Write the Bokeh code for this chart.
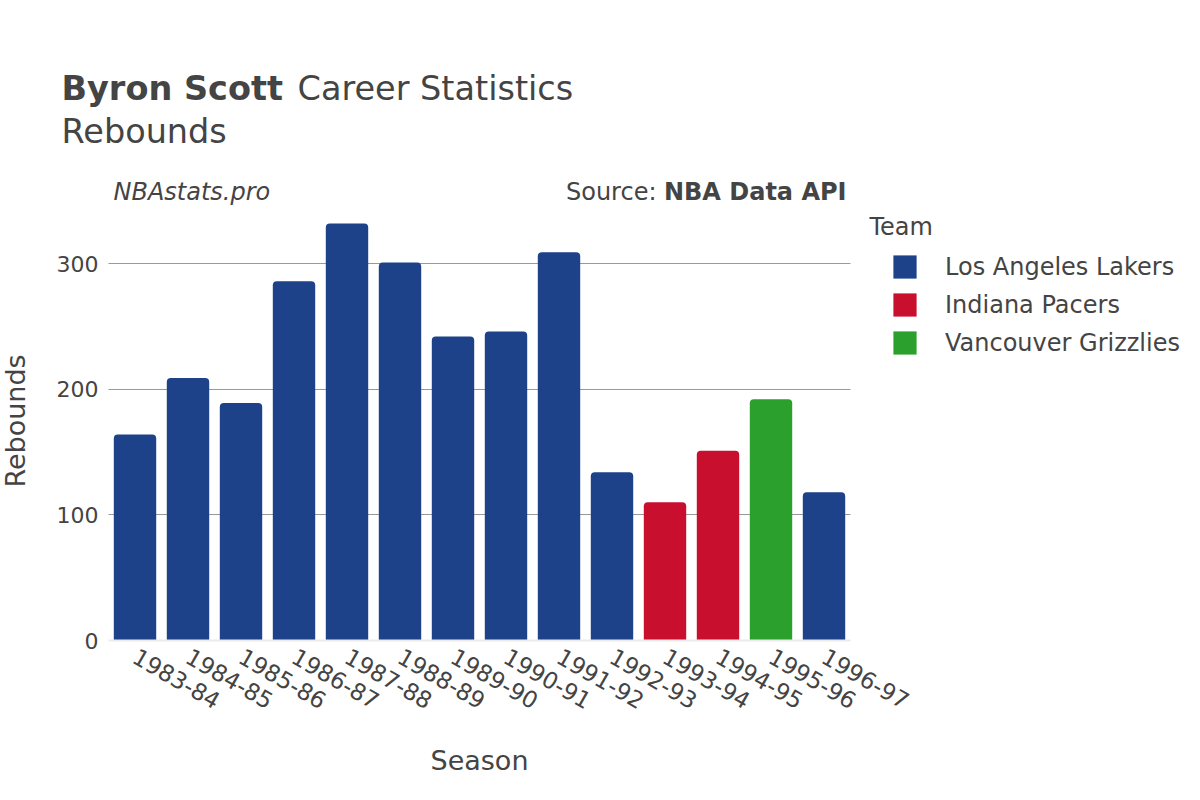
import math
from bokeh.plotting import figure
from bokeh.models import (ColumnDataSource, Range1d, Label, Legend,
                          LegendItem, FixedTicker)
from bokeh.embed import file_html
from bokeh.resources import INLINE

# ---------------- data ----------------
seasons = ["1983-84", "1984-85", "1985-86", "1986-87", "1987-88", "1988-89",
           "1989-90", "1990-91", "1991-92", "1992-93", "1993-94", "1994-95",
           "1995-96", "1996-97"]
rebounds = [164, 209, 189, 286, 332, 301, 242, 246, 309, 134, 110, 151, 192, 118]
teams = ["Los Angeles Lakers", "Los Angeles Lakers", "Los Angeles Lakers",
         "Los Angeles Lakers", "Los Angeles Lakers", "Los Angeles Lakers",
         "Los Angeles Lakers", "Los Angeles Lakers", "Los Angeles Lakers",
         "Los Angeles Lakers", "Indiana Pacers", "Indiana Pacers",
         "Vancouver Grizzlies", "Los Angeles Lakers"]
team_names = ["Los Angeles Lakers", "Indiana Pacers", "Vancouver Grizzlies"]
team_colors = ["#1D428A", "#C8102E", "#2CA02C"]
y_ticks = [0, 100, 200, 300]

# ---------------- layout constants (canvas px) ----------------
W, H = 1184, 784
FL, FR, FT, FB = 108, 850, 201, 640    # plotting area
YMAX = 349.5
N = len(seasons)
XPX = (FR - FL) / N                    # px per category
YPX = (FB - FT) / YMAX                 # px per rebound
FONT = "DejaVu Sans"
TXT = "#444444"
BASE_SHIFT = 0.36                      # label baseline correction (em)


def xd(px):
    return (px - FL) / XPX


def yd(py):
    return (FB - py) / YPX


# the frame spans the whole canvas; axes are pinned inside it
p = figure(width=W, height=H,
           x_range=Range1d(xd(0), xd(W)),
           y_range=Range1d(yd(H), yd(0)),
           output_backend="svg", toolbar_location=None,
           min_border_left=0, min_border_right=0,
           min_border_top=0, min_border_bottom=0)
p.outline_line_color = None
p.background_fill_color = "white"
p.border_fill_color = "white"

renderers = []
for name, color in zip(team_names, team_colors):
    idx = [i for i, t in enumerate(teams) if t == name]
    src = ColumnDataSource(dict(x=[i + 0.5 for i in idx],
                                reb=[rebounds[i] for i in idx]))
    r = p.vbar(x="x", top="reb", bottom=0, width=0.8, source=src,
               fill_color=color, line_color=None, border_radius=(4, 4, 0, 0))
    renderers.append(r)

# grid
p.ygrid.ticker = FixedTicker(ticks=y_ticks[1:])
p.ygrid.cross_bounds = (0, N)
p.ygrid.grid_line_color = "#999999"
p.ygrid.grid_line_width = 1
p.xgrid.grid_line_color = None

# y axis
p.yaxis.fixed_location = 0
p.yaxis.ticker = FixedTicker(ticks=y_ticks)
p.yaxis.bounds = (0, YMAX)
p.yaxis.axis_line_color = None
p.yaxis.major_tick_line_color = None
p.yaxis.minor_tick_line_color = None
p.yaxis.major_label_standoff = 4
p.yaxis.major_label_text_font = FONT
p.yaxis.major_label_text_font_size = "22px"
p.yaxis.major_label_text_color = TXT

# x axis
x_ticks = [i + 0.5 for i in range(N)]
p.xaxis.fixed_location = 0
p.xaxis.ticker = FixedTicker(ticks=x_ticks)
p.xaxis.major_label_overrides = {t: s for t, s in zip(x_ticks, seasons)}
p.xaxis.bounds = (0, N)
p.xaxis.axis_line_color = "#ebebeb"
p.xaxis.axis_line_width = 2
p.xaxis.major_tick_line_color = None
p.xaxis.minor_tick_line_color = None
p.xaxis.major_label_orientation = -math.pi / 6
p.xaxis.major_label_standoff = 8
p.xaxis.major_label_text_font = FONT
p.xaxis.major_label_text_font_size = "23px"
p.xaxis.major_label_text_color = TXT


# titles and annotations (px, py = baseline position)
def add_label(text, px, py, size, style="normal", align="left", rotated=False):
    shift = BASE_SHIFT * size
    if rotated:
        px, py, angle = px - shift, py, math.pi / 2
    else:
        px, py, angle = px, py - shift, 0.0
    p.add_layout(Label(x=xd(px), y=yd(py), text=text, text_font=FONT,
                       text_font_size=f"{size}px", text_font_style=style,
                       text_color=TXT, text_align=align, angle=angle,
                       text_baseline="alphabetic"))


add_label("Byron Scott", 61, 100, 33.5, "bold")
add_label("Career Statistics", 297, 100, 33.5)
add_label("Rebounds", 61, 143, 33.5)
add_label("NBAstats.pro", 113, 200, 24, "italic")
add_label("NBA Data API", 846, 200, 24, "bold", align="right")
add_label("Source:", 656, 200, 24, align="right")
add_label("Team", 869, 235, 24)
add_label("Season", (FL + FR) / 2, 770, 27, align="center")
add_label("Rebounds", 25, (FT + FB) / 2, 27, align="center", rotated=True)

legend = Legend(items=[LegendItem(label=n, renderers=[r])
                       for n, r in zip(team_names, renderers)],
                location=(890, H - 357), orientation="vertical",
                glyph_width=29, glyph_height=29, label_standoff=26,
                label_text_font=FONT, label_text_font_size="24px",
                label_text_color=TXT, spacing=9, padding=0, margin=0,
                border_line_color=None, background_fill_alpha=0)
p.add_layout(legend, "center")

open("out.html", "w").write(file_html(p, INLINE))
